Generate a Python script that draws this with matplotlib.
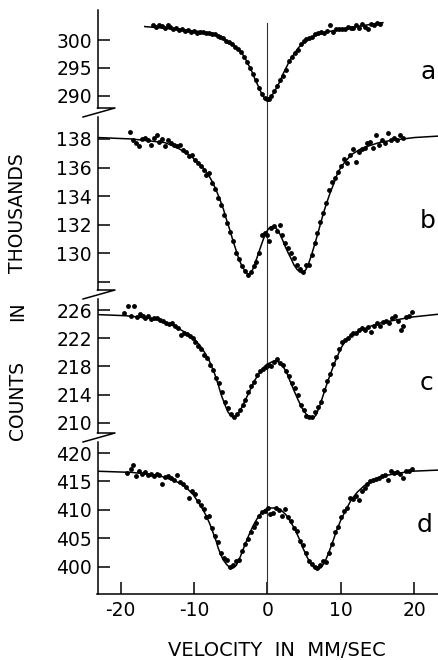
import matplotlib.pyplot as plt
from matplotlib.lines import Line2D

plt.rcParams['font.family'] = 'DejaVu Sans'
plt.rcParams['axes.unicode_minus'] = False

# ---- data (velocity in mm/sec, counts in thousands) ----

# spectrum a
a_vel = [-15.6, -15.2, -14.8, -14.4, -14.0, -13.6, -13.2, -12.8, -12.4, -12.0, -11.6, -11.2,
         -10.8, -10.4, -10.0, -9.6, -9.2, -8.8, -8.4, -8.0, -7.6, -7.2, -6.8, -6.4, -6.0, -5.6,
         -5.2, -4.8, -4.4, -4.0, -3.6, -3.2, -2.8, -2.4, -2.0, -1.6, -1.2, -0.8, -0.4, -0.1,
         0.2, 0.5, 0.9, 1.3, 1.7, 2.1, 2.5, 2.9, 3.3, 3.7, 4.1, 4.5, 4.9, 5.3, 5.7, 6.1, 6.5,
         6.9, 7.3, 7.7, 8.1, 8.5, 8.9, 9.3, 9.7, 10.1, 10.5, 10.9, 11.3, 11.7, 12.1, 12.5,
         12.9, 13.3, 13.7, 14.1, 14.5, 14.9, 15.3]
a_counts = [302.6, 302.3, 302.7, 302.5, 302.2, 302.6, 302.3, 302.0, 302.2, 301.7, 301.9, 301.6,
            301.8, 301.5, 301.6, 301.3, 301.5, 301.4, 301.2, 301.3, 301.1, 301.0, 300.8, 300.5,
            300.3, 299.9, 299.6, 299.2, 298.8, 298.4, 297.8, 297.0, 296.0, 295.0, 293.9, 292.8,
            291.5, 290.3, 289.7, 289.4, 289.5, 290.0, 290.9, 291.8, 292.8, 293.6, 294.7, 296.2,
            296.9, 297.7, 298.3, 299.2, 299.8, 300.2, 300.3, 300.6, 301.0, 301.2, 301.5, 301.3,
            301.6, 302.7, 301.5, 302.0, 301.9, 301.9, 302.0, 302.3, 302.1, 302.2, 302.6, 302.2,
            302.8, 302.3, 302.0, 302.9, 302.6, 303.1, 302.8]
a_fit_vel = [-16.7, -14.0, -11.5, -9.0, -7.4, -6.5, -5.5, -4.6, -3.7, -3.1, -2.6, -2.1, -1.7,
             -1.2, -0.8, -0.4, 0.0, 0.4, 0.8, 1.2, 1.7, 2.1, 2.6, 3.0, 3.5, 4.2, 4.9, 5.8, 6.7,
             8.0, 9.4, 12.0, 15.7]
a_fit_counts = [302.4, 302.1, 301.8, 301.5, 301.2, 300.7, 299.8, 299.0, 298.0, 296.9, 295.6,
                294.3, 293.0, 291.6, 290.4, 289.6, 289.3, 289.7, 290.5, 291.4, 292.6, 293.9,
                295.2, 296.3, 297.3, 298.6, 299.6, 300.4, 300.9, 301.4, 301.8, 302.4, 303.1]

# spectrum b
b_vel = [-18.7, -18.3, -17.9, -17.5, -17.1, -16.7, -16.3, -15.9, -15.5, -15.1, -14.7, -14.3,
         -13.9, -13.5, -13.1, -12.7, -12.3, -11.9, -11.5, -11.1, -10.7, -10.3, -9.9, -9.5,
         -9.1, -8.7, -8.3, -7.9, -7.5, -7.1, -6.7, -6.3, -5.9, -5.5, -5.1, -4.7, -4.3, -3.9,
         -3.5, -3.1, -2.7, -2.3, -1.9, -1.5, -1.1, -0.7, -0.4, -0.1, 0.2, 0.5, 0.9, 1.3, 1.7,
         2.0, 2.4, 2.8, 3.2, 3.6, 4.0, 4.4, 4.8, 5.2, 5.6, 6.0, 6.4, 6.8, 7.2, 7.6, 8.0, 8.4,
         8.8, 9.2, 9.6, 10.0, 10.4, 10.8, 11.2, 11.6, 12.0, 12.4, 12.8, 13.2, 13.6, 14.0, 14.4,
         14.8, 15.2, 15.6, 16.0, 16.4, 16.8, 17.2, 17.6, 18.0, 18.4]
b_counts = [138.5, 137.9, 137.7, 137.5, 138.0, 138.1, 137.9, 137.6, 138.1, 138.3, 137.8, 138.0,
            137.5, 137.9, 137.7, 137.6, 137.5, 137.6, 137.2, 137.1, 136.8, 136.9, 136.5, 136.3,
            136.1, 135.8, 135.5, 135.6, 134.9, 134.5, 133.9, 133.4, 132.7, 132.1, 131.5, 130.9,
            130.0, 129.6, 129.1, 128.8, 128.5, 128.7, 129.1, 129.4, 130.0, 131.3, 131.4, 131.3,
            130.9, 131.8, 131.9, 131.6, 132.0, 131.3, 130.7, 130.4, 130.0, 129.7, 129.2, 128.9,
            128.7, 129.2, 129.2, 129.9, 130.7, 131.4, 132.2, 132.8, 133.5, 134.4, 135.0, 135.3,
            135.7, 136.1, 136.6, 136.3, 136.9, 137.3, 136.4, 137.1, 137.3, 137.4, 137.7, 137.8,
            137.4, 138.3, 137.6, 137.9, 137.7, 138.4, 137.9, 138.1, 137.9, 138.3, 138.1]
b_fit_vel = [-23.1, -18.5, -14.0, -12.5, -11.3, -10.4, -9.5, -8.8, -8.1, -7.5, -7.0, -6.5, -6.0,
             -5.6, -5.1, -4.7, -4.2, -3.9, -3.5, -3.1, -2.7, -2.3, -1.9, -1.5, -1.1, -0.7, -0.3,
             0.1, 0.4, 0.8, 1.2, 1.6, 2.0, 2.4, 2.8, 3.2, 3.6, 4.0, 4.4, 4.8, 5.2, 5.6, 6.0, 6.4,
             6.8, 7.2, 7.6, 8.0, 8.5, 9.0, 9.6, 10.4, 11.4, 12.5, 13.7, 15.2, 16.8, 20.0, 23.2]
b_fit_counts = [138.1, 138.0, 137.75, 137.45, 137.1, 136.8, 136.35, 136.0, 135.55, 135.0,
                134.45, 133.8, 133.1, 132.4, 131.6, 130.9, 130.1, 129.6, 129.15, 128.8, 128.55,
                128.6, 129.0, 129.6, 130.2, 130.8, 131.35, 131.7, 131.85, 131.9, 131.75, 131.45,
                131.0, 130.5, 130.05, 129.65, 129.2, 128.9, 128.7, 128.65, 128.85, 129.3, 129.9,
                130.6, 131.3, 132.05, 132.8, 133.45, 134.2, 134.85, 135.7, 136.3, 136.9, 137.25,
                137.5, 137.75, 137.9, 138.1, 138.2]

# spectrum c
c_vel = [-19.5, -19.0, -18.6, -18.2, -17.8, -17.4, -17.0, -16.6, -16.2, -15.8, -15.4, -15.0,
         -14.6, -14.2, -13.8, -13.4, -13.0, -12.6, -12.2, -11.8, -11.4, -11.0, -10.6, -10.2,
         -9.8, -9.4, -9.0, -8.6, -8.2, -7.8, -7.4, -7.0, -6.6, -6.2, -5.8, -5.4, -5.0, -4.6,
         -4.2, -3.8, -3.4, -3.0, -2.6, -2.2, -1.8, -1.4, -1.0, -0.6, -0.2, 0.2, 0.5, 0.9, 1.3,
         1.7, 2.1, 2.5, 2.9, 3.3, 3.7, 4.1, 4.5, 4.9, 5.3, 5.7, 6.1, 6.5, 6.9, 7.3, 7.7, 8.1,
         8.5, 8.9, 9.3, 9.7, 10.1, 10.5, 10.9, 11.3, 11.7, 12.1, 12.5, 12.9, 13.3, 13.7, 14.1,
         14.5, 14.9, 15.3, 15.7, 16.1, 16.5, 16.9, 17.3, 17.7, 18.1, 18.5, 18.9, 19.3, 19.7]
c_counts = [225.6, 226.5, 225.2, 226.5, 225.0, 225.4, 225.1, 224.8, 225.1, 224.7, 224.8, 224.9,
            224.6, 224.5, 224.2, 224.0, 224.1, 223.7, 223.5, 222.4, 222.8, 222.6, 222.3, 222.0,
            221.5, 220.9, 220.5, 219.6, 219.2, 218.2, 217.5, 216.4, 215.6, 214.4, 213.0, 212.1,
            211.2, 210.9, 211.2, 211.8, 212.5, 213.3, 214.4, 215.2, 215.8, 216.8, 217.4, 217.6,
            217.9, 218.2, 218.0, 218.7, 219.0, 218.5, 218.2, 217.4, 216.6, 215.7, 214.9, 213.9,
            212.6, 211.9, 211.0, 210.9, 210.8, 211.6, 212.3, 213.0, 214.6, 216.0, 216.9, 218.3,
            219.4, 220.5, 221.5, 221.7, 222.0, 222.4, 222.7, 222.8, 223.1, 223.4, 223.2, 223.6,
            222.9, 223.8, 224.1, 223.8, 224.3, 224.5, 224.2, 224.8, 225.1, 224.5, 223.1, 223.8,
            225.0, 225.2, 225.7]
c_fit_vel = [-23.1, -19.4, -16.5, -14.9, -13.5, -12.2, -11.0, -9.9, -9.2, -8.5, -8.0, -7.6, -7.2,
             -6.7, -6.3, -5.8, -5.4, -4.9, -4.5, -4.0, -3.5, -2.9, -2.3, -1.7, -1.1, -0.6, -0.1,
             0.3, 0.8, 1.2, 1.7, 2.1, 2.6, 3.0, 3.6, 4.15, 4.7, 5.3, 5.8, 6.2, 6.6, 7.1, 7.6,
             8.2, 8.8, 9.4, 10.0, 10.7, 11.7, 12.8, 14.0, 15.5, 17.5, 19.6, 23.2]
c_fit_counts = [225.35, 225.2, 224.9, 224.6, 224.1, 223.45, 222.7, 221.8, 221.0, 219.9, 219.0,
                218.0, 217.0, 215.4, 214.0, 212.6, 211.6, 210.9, 210.8, 211.3, 212.2, 213.5,
                214.8, 216.1, 217.1, 217.8, 218.3, 218.5, 218.75, 218.8, 218.5, 218.0, 217.2,
                216.1, 214.6, 213.3, 212.1, 211.2, 210.8, 210.7, 211.1, 212.4, 214.0, 215.9,
                217.6, 219.2, 220.6, 221.8, 222.6, 223.2, 223.7, 224.2, 224.6, 225.0, 225.4]

# spectrum d
d_vel = [-19.1, -18.6, -18.3, -17.9, -17.5, -17.1, -16.7, -16.3, -15.9, -15.5, -15.1, -14.7,
         -14.3, -13.9, -13.5, -13.1, -12.7, -12.3, -11.9, -11.5, -11.1, -10.7, -10.3, -9.9,
         -9.5, -9.1, -8.7, -8.3, -7.9, -7.5, -7.1, -6.7, -6.3, -5.9, -5.5, -5.1, -4.7, -4.3,
         -3.9, -3.5, -3.1, -2.7, -2.3, -1.9, -1.5, -1.1, -0.7, -0.3, 0.1, 0.4, 0.8, 1.2, 1.6,
         2.0, 2.4, 2.8, 3.2, 3.6, 4.0, 4.4, 4.8, 5.2, 5.6, 6.0, 6.4, 6.8, 7.2, 7.6, 8.0, 8.4,
         8.8, 9.2, 9.6, 10.0, 10.4, 10.8, 11.2, 11.6, 12.0, 12.4, 12.8, 13.2, 13.6, 14.0, 14.4,
         14.8, 15.2, 15.6, 16.0, 16.4, 16.8, 17.2, 17.6, 18.0, 18.4, 18.8, 19.2, 19.6]
d_counts = [416.5, 417.2, 417.9, 416.0, 416.9, 416.3, 416.6, 416.1, 416.4, 416.0, 416.4, 416.1,
            414.6, 415.8, 416.0, 415.6, 415.3, 416.1, 414.9, 414.5, 414.0, 412.1, 413.3, 412.8,
            411.6, 410.8, 410.1, 408.7, 408.9, 406.8, 405.4, 404.3, 402.5, 401.5, 401.2, 400.0,
            400.4, 401.0, 401.3, 402.8, 404.1, 404.9, 406.2, 407.0, 407.8, 408.9, 409.6, 409.8,
            410.4, 409.3, 409.5, 410.3, 410.0, 409.0, 410.2, 408.8, 408.0, 406.9, 406.3, 404.6,
            403.8, 402.4, 401.1, 400.5, 400.0, 399.9, 400.4, 401.0, 400.8, 402.5, 404.1, 406.2,
            407.1, 408.7, 409.8, 410.4, 412.1, 412.0, 412.4, 411.8, 413.4, 413.9, 414.6, 415.1,
            415.3, 415.4, 415.6, 415.9, 416.1, 415.2, 416.8, 416.5, 416.6, 416.3, 415.6, 416.8,
            416.9, 417.2]
d_fit_vel = [-23.1, -18.5, -14.9, -12.6, -11.6, -10.8, -10.1, -9.5, -8.9, -8.3, -7.8, -7.4,
             -7.0, -6.7, -6.4, -6.05, -5.6, -5.15, -4.7, -4.24, -3.7, -3.1, -2.5, -1.97, -1.4,
             -0.84, -0.3, 0.3, 0.9, 1.43, 2.0, 2.56, 3.1, 3.7, 4.3, 4.83, 5.4, 5.96, 6.4, 6.87,
             7.3, 7.78, 8.3, 8.9, 9.4, 10.0, 10.7, 11.4, 12.2, 13.2, 14.3, 15.5, 17.5, 19.6, 23.2]
d_fit_counts = [416.8, 416.6, 416.1, 415.1, 414.5, 413.6, 412.7, 411.5, 410.3, 408.9, 407.4,
                406.0, 404.6, 403.3, 402.3, 401.3, 400.5, 399.9, 399.8, 400.3, 401.8, 403.8,
                405.7, 407.2, 408.5, 409.5, 410.1, 410.35, 410.35, 410.2, 409.8, 409.1, 408.0,
                406.7, 405.0, 403.3, 401.7, 400.4, 399.8, 399.6, 399.9, 400.8, 402.4, 404.5,
                406.4, 408.3, 410.1, 411.8, 413.1, 414.3, 415.2, 415.9, 416.4, 416.8, 417.0]

x_ticks = [-20, -10, 0, 10, 20]
x_tick_labels = ['-20', '-10', '0', '10', '20']

# ---- layout (pixels of a 438x660 figure) ----
W, H = 438, 660
LEFT = 97.5

# name, top px, bottom px, ylim, spine bounds, yticks, ytick labels, letter (x, y)
panels = [
    ('a', 10, 112.5, (287.05, 305.36), (287.86, 305.36), [290, 295, 300],
     ['290', '295', '300'], (21.8, 294.3)),
    ('b', 112.5, 294.5, (127.13, 139.85), (127.44, 139.54), [128, 130, 132, 134, 136, 138],
     ['', '130', '132', '134', '136', '138'], (21.8, 132.3)),
    ('c', 294.5, 437.5, (207.94, 228.2), (208.58, 227.56), [210, 214, 218, 222, 226],
     ['210', '214', '218', '222', '226'], (21.6, 215.7)),
    ('d', 437.5, 594, (395.26, 422.72), (395.26, 421.93), [400, 405, 410, 415, 420],
     ['400', '405', '410', '415', '420'], (21.4, 407.4)),
]
series = {
    'a': (a_vel, a_counts, a_fit_vel, a_fit_counts),
    'b': (b_vel, b_counts, b_fit_vel, b_fit_counts),
    'c': (c_vel, c_counts, c_fit_vel, c_fit_counts),
    'd': (d_vel, d_counts, d_fit_vel, d_fit_counts),
}

fig = plt.figure(figsize=(W / 100, H / 100), dpi=100)

for name, top, bottom, ylim, bounds, yt, ytl, letter_pos in panels:
    ax = fig.add_axes([LEFT / W, 1 - bottom / H, (W - LEFT) / W, (bottom - top) / H])
    vel, counts, fvel, fcounts = series[name]

    ax.plot(fvel, fcounts, color='black', lw=1.1, zorder=3)
    ax.plot(vel, counts, 'o', color='black', ms=3.5, mew=0, zorder=4)

    if name == 'a':
        ax.axvline(0, ymax=(303.0 - ylim[0]) / (ylim[1] - ylim[0]), color='#333333', lw=0.8)
    else:
        ax.axvline(0, color='#333333', lw=0.8)

    ax.set_xlim(-23.13, 23.2)
    ax.set_ylim(*ylim)
    ax.set_yticks(yt)
    ax.set_yticklabels(ytl)
    ax.tick_params(axis='y', direction='in', length=8.5, width=1.1, pad=4, labelsize=13.5)

    for s in ['top', 'right']:
        ax.spines[s].set_visible(False)
    ax.spines['left'].set_linewidth(1.1)
    ax.spines['left'].set_bounds(*bounds)

    if name == 'd':
        ax.set_xticks(x_ticks)
        ax.set_xticklabels(x_tick_labels)
        ax.tick_params(axis='x', direction='in', length=9, width=1.1, pad=5, labelsize=13.5)
        ax.spines['bottom'].set_linewidth(1.1)
    else:
        ax.spines['bottom'].set_visible(False)
        ax.set_xticks([])

    ax.text(letter_pos[0], letter_pos[1], name, fontsize=18, ha='center', va='center')
    ax.patch.set_visible(False)

# axis break marks
for y0 in [108, 290, 433]:
    xs = [97.5 / W, 115 / W, 83 / W]
    ys = [1 - y0 / H, 1 - y0 / H, 1 - (y0 + 9) / H]
    fig.add_artist(Line2D(xs, ys, color='black', lw=1.1, transform=fig.transFigure))

# axis labels
fig.text(18 / W, 1 - 213 / H, 'THOUSANDS', rotation=90, fontsize=13.5, ha='center', va='center')
fig.text(18 / W, 1 - 311 / H, 'IN', rotation=90, fontsize=13.5, ha='center', va='center')
fig.text(18 / W, 1 - 400 / H, 'COUNTS', rotation=90, fontsize=13.5, ha='center', va='center')
fig.text(277 / W, 1 - 650 / H, 'VELOCITY  IN  MM/SEC', fontsize=14, ha='center', va='center')

fig.savefig('out.png', dpi=100)
